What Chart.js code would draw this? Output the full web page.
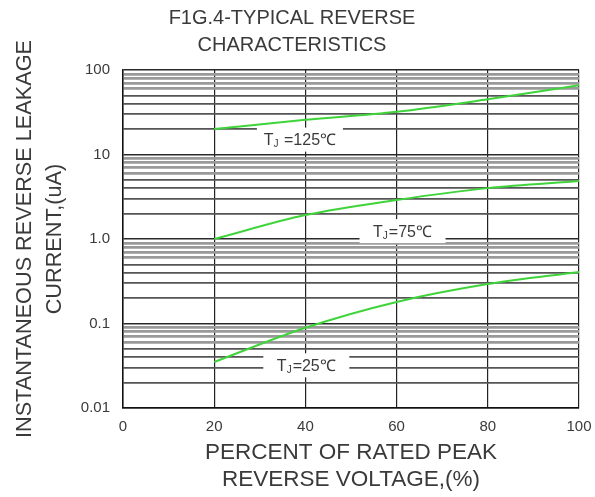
<!DOCTYPE html>
<html><head><meta charset="utf-8">
<script src="https://cdn.jsdelivr.net/npm/chart.js@4.4.0/dist/chart.umd.min.js"></script>
<style>html,body{margin:0;padding:0;background:#fff;}</style>
</head><body>
<canvas id="c" width="595" height="497" style="width:595px;height:497px;display:block"></canvas>
<script>
// ---- data ----
const voltagePct = [20, 40, 60, 80, 100];
const tj125 = [20, 25.7, 32, 45, 66];
const tj75 = [1.0, 1.92, 2.9, 4.0, 4.85];
const tj25 = [0.035, 0.089, 0.18, 0.293, 0.407];
const yDecades = [0.01, 0.1, 1, 10, 100];
const yDecadeLabels = ['0.01', '0.1', '1.0', '10', '100'];
const yMinorMultipliers = [2, 3, 4, 5, 6, 7, 8, 9];
const xTickValues = [0, 20, 40, 60, 80, 100];
const curveLabelTexts = [
  { pre: 'T', sub: 'J', post: ' =125\u2103', x: 38.8, y: 15 },
  { pre: 'T', sub: 'J', post: '=75\u2103', x: 61.3, y: 1.24 },
  { pre: 'T', sub: 'J', post: '=25\u2103', x: 40.2, y: 0.032 }
];

// tick list built from the arrays above
const yTickValues = [];
yDecades.forEach((d, i) => {
  yTickValues.push(d);
  if (i < yDecades.length - 1) yMinorMultipliers.forEach(m => yTickValues.push(+(d * m).toPrecision(3)));
});
function significand(v) { return Math.round(v / Math.pow(10, Math.floor(Math.log10(v) + 1e-9))); }

const FONT = "'Liberation Sans', Arial, sans-serif";
const TXT = '#3a3a3a';
const GREEN = '#3ed43a';

const labelPlugin = {
  id: 'curveLabels',
  afterDatasetsDraw(chart) {
    const ctx = chart.ctx, xs = chart.scales.x, ys = chart.scales.y;
    ctx.save();
    curveLabelTexts.forEach(l => {
      const cx = xs.getPixelForValue(l.x), cy = ys.getPixelForValue(l.y);
      const w = 86, h = 24;
      ctx.fillStyle = '#fff';
      ctx.fillRect(cx - w / 2, cy - h / 2, w, h);
      const big = '16px ' + FONT, small = '10px ' + FONT;
      ctx.font = big; const w1 = ctx.measureText(l.pre).width, w3 = ctx.measureText(l.post).width;
      ctx.font = small; const w2 = ctx.measureText(l.sub).width + 1;
      let x0 = cx - (w1 + w2 + w3) / 2;
      ctx.fillStyle = TXT; ctx.textBaseline = 'middle'; ctx.textAlign = 'left';
      ctx.font = big; ctx.fillText(l.pre, x0, cy + 1);
      ctx.font = small; ctx.fillText(l.sub, x0 + w1, cy + 5);
      ctx.font = big; ctx.fillText(l.post, x0 + w1 + w2, cy + 1);
    });
    ctx.restore();
  }
};

const mkSet = (data) => ({
  data: voltagePct.map((x, i) => ({ x, y: data[i] })),
  borderColor: GREEN, borderWidth: 2, pointRadius: 0, fill: false,
  cubicInterpolationMode: 'monotone'
});

new Chart(document.getElementById('c'), {
  type: 'line',
  data: { datasets: [mkSet(tj125), mkSet(tj75), mkSet(tj25)] },
  plugins: [labelPlugin],
  options: {
    responsive: false, animation: false, devicePixelRatio: 1,
    layout: { padding: { left: 5, right: 16, top: 0, bottom: 0 } },
    plugins: {
      legend: { display: false }, tooltip: { enabled: false },
      title: {
        display: true, text: ['F1G.4-TYPICAL REVERSE', 'CHARACTERISTICS'],
        color: TXT, font: { family: FONT, size: 20, weight: 'normal', lineHeight: 1.35 },
        padding: { top: 4.5, bottom: 11.5 }
      }
    },
    scales: {
      x: {
        type: 'linear', min: 0, max: 100,
        afterBuildTicks: s => { s.ticks = xTickValues.map(v => ({ value: v })); },
        afterFit: s => { s.height = 89; s.paddingLeft = 0; s.paddingRight = 0; },
        ticks: { color: TXT, font: { family: FONT, size: 15 }, padding: 10, maxRotation: 0, autoSkip: false },
        grid: { color: '#222', lineWidth: 1.2, drawTicks: false },
        border: { display: true, color: '#111', width: 1.5 },
        title: {
          display: true, text: ['PERCENT OF RATED PEAK', 'REVERSE VOLTAGE,(%)'],
          color: TXT, font: { family: FONT, size: 22.5, lineHeight: 1.22 }, padding: { top: 0, bottom: 3 }
        }
      },
      y: {
        type: 'logarithmic', min: 0.01, max: 100,
        afterBuildTicks: s => { s.ticks = yTickValues.map(v => ({ value: v })); },
        afterFit: s => { s.width = 118; },
        ticks: {
          color: TXT, font: { family: FONT, size: 15 }, padding: 13, autoSkip: false,
          callback: (v) => { const i = yDecades.findIndex(d => Math.abs(d - v) < d * 1e-6); return i >= 0 ? yDecadeLabels[i] : ''; }
        },
        grid: {
          drawTicks: false,
          color: c => { const s = significand(c.tick.value); return s === 1 || s === 10 ? '#2a2a2a' : (s <= 5 ? '#555' : '#999'); },
          lineWidth: c => { const s = significand(c.tick.value); return s === 1 || s === 10 ? 1.5 : (s <= 5 ? 1.7 : 2.7); }
        },
        border: { display: true, color: '#111', width: 1.5 },
        title: {
          display: true, text: ['INSTANTANEOUS REVERSE LEAKAGE', 'CURRENT,(uA)'],
          color: TXT, font: { family: FONT, size: 21.7, lineHeight: 1.38 }, padding: { top: 5, bottom: 0 }
        }
      }
    }
  }
});
</script>
</body></html>
